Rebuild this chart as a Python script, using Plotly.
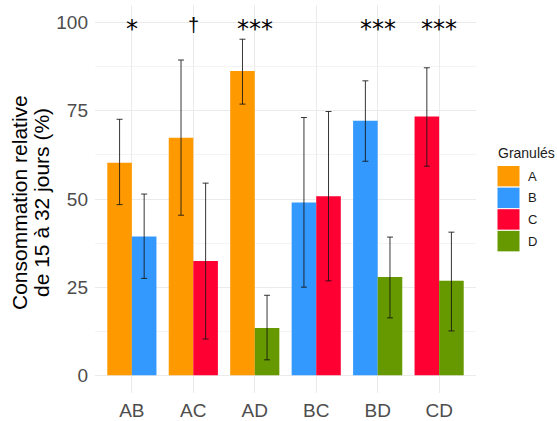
import plotly.graph_objects as go

# ---- data ----
pairs = ["AB", "AC", "AD", "BC", "BD", "CD"]
left_group = ["A", "A", "A", "B", "B", "C"]
right_group = ["B", "C", "D", "C", "D", "D"]
left_mean = [60.3, 67.4, 86.3, 49.0, 72.2, 73.4]
left_low = [48.4, 45.4, 76.9, 25.0, 60.7, 59.3]
left_high = [72.6, 89.4, 95.3, 73.1, 83.5, 87.2]
right_mean = [39.4, 32.4, 13.4, 50.8, 27.9, 26.8]
right_low = [27.5, 10.3, 4.4, 26.8, 16.3, 12.6]
right_high = [51.4, 54.5, 22.7, 74.8, 39.2, 40.6]
signif = ["*", "\u2020", "***", "", "***", "***"]
signif_y = 100
granules = ["A", "B", "C", "D"]
colors = {"A": "#FF9900", "B": "#3399FF", "C": "#FF0033", "D": "#669900"}
y_ticks = [0, 25, 50, 75, 100]
y_title = ["Consommation relative", "de 15 à 32 jours (%)"]

# ---- layout constants ----
W, H = 557, 421
ML, MR, MT, MB = 95, 81, 5, 28
PW, PH = W - ML - MR, H - MT - MB
BAR_W = 0.4


def px_x(px):
    return (px - ML) / PW


def px_y(py):
    return 1 - (py - MT) / PH


fig = go.Figure()

for g in granules:
    xs, ys, offs, up, dn = [], [], [], [], []
    for i, p in enumerate(pairs):
        if left_group[i] == g:
            xs.append(p); ys.append(left_mean[i]); offs.append(-BAR_W)
            up.append(left_high[i] - left_mean[i]); dn.append(left_mean[i] - left_low[i])
        if right_group[i] == g:
            xs.append(p); ys.append(right_mean[i]); offs.append(0.0)
            up.append(right_high[i] - right_mean[i]); dn.append(right_mean[i] - right_low[i])
    fig.add_trace(go.Bar(
        x=xs, y=ys, offset=offs, width=BAR_W, name=g,
        marker=dict(color=colors[g], line=dict(width=0)),
        error_y=dict(type="data", symmetric=False, array=up, arrayminus=dn,
                     color="rgba(20,20,20,0.85)", thickness=1, width=3),
        showlegend=False, hoverinfo="skip",
    ))

shapes, annotations = [], []

# ---- significance marks ----
for p, s in zip(pairs, signif):
    if not s:
        continue
    if s == "\u2020":
        f = dict(family="Liberation Sans", size=20, color="black")
        ys = -2
    else:
        f = dict(family="DejaVu Sans", size=24, color="black")
        ys = -6
    annotations.append(dict(text=s, x=p, y=signif_y, xref="x", yref="y",
                            showarrow=False, xanchor="center", yanchor="middle",
                            yshift=ys, font=f))

# ---- y-axis title (two lines, tighter spacing) ----
for txt, cx in zip(y_title, [19, 41]):
    annotations.append(dict(text=txt, xref="paper", yref="paper",
                            x=px_x(cx), y=px_y(203), xanchor="center", yanchor="middle",
                            textangle=-90, showarrow=False,
                            font=dict(size=21, color="black", family="Liberation Sans")))

# ---- custom legend ----
annotations.append(dict(text="Granulés", xref="paper", yref="paper",
                        x=px_x(496), y=px_y(153), xanchor="left", yanchor="middle",
                        showarrow=False, font=dict(size=14, color="#1a1a1a",
                                                   family="Liberation Sans")))
key_top, key_h = 165.5, 21.6
for k, g in enumerate(granules):
    y0 = key_top + k * key_h
    shapes.append(dict(type="rect", xref="paper", yref="paper",
                       x0=px_x(497), x1=px_x(520), y0=px_y(y0), y1=px_y(y0 + key_h),
                       fillcolor=colors[g], line=dict(color="white", width=1)))
    annotations.append(dict(text=g, xref="paper", yref="paper",
                            x=px_x(526), y=px_y(y0 + key_h / 2), xanchor="left",
                            yanchor="middle", showarrow=False,
                            font=dict(size=13, color="#1a1a1a", family="Liberation Sans")))

fig.update_layout(
    width=W, height=H, margin=dict(l=ML, r=MR, t=MT, b=MB, autoexpand=False),
    paper_bgcolor="white", plot_bgcolor="white",
    barmode="overlay", shapes=shapes, annotations=annotations,
    font=dict(family="Liberation Sans"), showlegend=False,
    xaxis=dict(type="category", categoryorder="array", categoryarray=pairs,
               range=[-0.6, 5.6], showgrid=True, gridcolor="#ebebeb", gridwidth=1,
               zeroline=False, showline=False, ticks="", ticklabelstandoff=4,
               tickfont=dict(size=19, color="#4d4d4d"), automargin=False),
    yaxis=dict(range=[-5, 105], tickvals=y_ticks, showgrid=True, gridcolor="#ebebeb",
               gridwidth=1, zeroline=False, showline=False, ticks="", ticklabelstandoff=6,
               minor=dict(dtick=12.5, tick0=0, showgrid=True, gridcolor="#f4f4f4", gridwidth=1),
               tickfont=dict(size=19, color="#4d4d4d"), automargin=False),
)

fig.write_html("out.html", config={"displayModeBar": False},
               post_script="document.body.style.margin='0';")
